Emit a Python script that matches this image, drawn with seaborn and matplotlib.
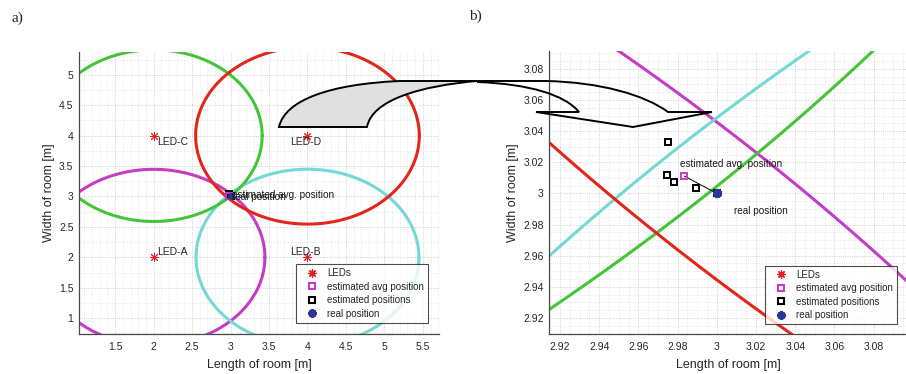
import numpy as np
import pandas as pd
import matplotlib
matplotlib.use("Agg")
import matplotlib.pyplot as plt
import seaborn as sns
from matplotlib.path import Path
from matplotlib.patches import PathPatch
from matplotlib.ticker import MultipleLocator, FuncFormatter

# ---------------- data ----------------
led_names = ["LED-A", "LED-B", "LED-C", "LED-D"]
led_x = [2.0, 4.0, 2.0, 4.0]
led_y = [2.0, 2.0, 4.0, 4.0]
radius = [1.447, 1.449, 1.411, 1.454]
circle_colors = ["#c53cc5", "#74d8d4", "#45c43a", "#e1261c"]

est_x = [2.9752, 2.9744, 2.9780, 2.9893, 3.0000]
est_y = [3.0330, 3.0117, 3.0075, 3.0037, 3.0000]
avg_x = [2.9834]
avg_y = [3.0112]
real_x = [3.0]
real_y = [3.0]

legend_labels = ["LEDs", "estimated avg position", "estimated positions", "real position"]
left_xticks = [1.5, 2, 2.5, 3, 3.5, 4, 4.5, 5, 5.5]
left_yticks = [1, 1.5, 2, 2.5, 3, 3.5, 4, 4.5, 5]
right_ticks = [2.92, 2.94, 2.96, 2.98, 3.0, 3.02, 3.04, 3.06, 3.08]

# ---------------- style ----------------
sns.set_style("white")
plt.rcParams["font.family"] = ["Liberation Sans", "DejaVu Sans"]
TXT = "#262626"
LED_RED = "#e02020"
REAL_BLUE = "#2b3596"
AVG_MAG = "#c53cc5"

W, H = 906, 374
fig = plt.figure(figsize=(W / 100, H / 100), dpi=100)


def px_axes(x0, y0, x1, y1):
    return fig.add_axes([x0 / W, 1 - y1 / H, (x1 - x0) / W, (y1 - y0) / H])


axL = px_axes(79, 52, 439, 334)
axR = px_axes(549, 51, 907, 334)

theta = np.linspace(0, 2 * np.pi, 1441)
rows = []
for n, cx, cy, r in zip(led_names, led_x, led_y, radius):
    for t in theta:
        rows.append((n, cx + r * np.cos(t), cy + r * np.sin(t)))
circ = pd.DataFrame(rows, columns=["led", "x", "y"])
pal = dict(zip(led_names, circle_colors))

fmt = FuncFormatter(lambda v, p: f"{round(v, 4):g}")
ASTER = (8, 2, 0)


def draw(ax, small):
    sns.lineplot(data=circ, x="x", y="y", hue="led", palette=pal, sort=False,
                 estimator=None, legend=False, lw=2.2, ax=ax, zorder=2)
    ax.plot(led_x, led_y, ls="none", marker=ASTER, ms=6.5, mew=0.7,
            color=LED_RED, zorder=4)
    ax.plot([avg_x[0], real_x[0]], [avg_y[0], real_y[0]], color="k", lw=0.7, zorder=3)
    ax.plot(est_x, est_y, ls="none", marker="s", ms=4.3, mfc="none", mec="k",
            mew=1.4, zorder=4)
    ax.plot(avg_x, avg_y, ls="none", marker="s", ms=4.3, mfc="none", mec=AVG_MAG,
            mew=1.4, zorder=5)
    ax.plot(real_x, real_y, ls="none", marker=ASTER, ms=6.5 if small else 5,
            mew=2.6 if small else 1.2, color=REAL_BLUE, zorder=6)
    for ln in ax.lines:
        ln.set_clip_on(True)
        ln.set_clip_box(ax.bbox)

    ax.set_xlabel("Length of room [m]", fontsize=9, color=TXT, labelpad=4.5)
    ax.set_ylabel("Width of room [m]", fontsize=9, color=TXT, labelpad=3)
    ax.xaxis.set_major_formatter(fmt)
    ax.yaxis.set_major_formatter(fmt)
    ax.tick_params(axis="both", direction="in", length=3, width=0.6, colors=TXT,
                   labelsize=7.5)
    ax.tick_params(axis="x", pad=6)
    ax.tick_params(axis="y", pad=4)
    for s in ["top", "right"]:
        ax.spines[s].set_visible(False)
    for s in ["left", "bottom"]:
        ax.spines[s].set_color("#4a4a4a")
        ax.spines[s].set_linewidth(0.9)
    ax.grid(True, which="major", ls=":", lw=0.6, color="#c4c4c4")
    ax.grid(True, which="minor", ls=":", lw=0.5, color="#dcdcdc")
    ax.set_axisbelow(True)

    h = [
        plt.Line2D([], [], ls="none", marker=ASTER, ms=6, mew=0.9, color=LED_RED),
        plt.Line2D([], [], ls="none", marker="s", ms=4.5, mfc="none", mec=AVG_MAG, mew=1.5),
        plt.Line2D([], [], ls="none", marker="s", ms=4.5, mfc="none", mec="k", mew=1.5),
        plt.Line2D([], [], ls="none", marker=ASTER, ms=6, mew=1.8, color=REAL_BLUE),
    ]
    return h


LEG_KW = dict(fontsize=7, frameon=True, fancybox=False, edgecolor="#222222",
              borderpad=0.4, labelspacing=0.36, handletextpad=0.3,
              handlelength=2.5, borderaxespad=0)

hL = draw(axL, False)
axL.set_xlim(1.03, 5.71)
axL.set_ylim(0.74, 5.375)
axL.set_xticks(left_xticks)
axL.set_yticks(left_yticks)
axL.xaxis.set_minor_locator(MultipleLocator(0.1))
axL.yaxis.set_minor_locator(MultipleLocator(0.25))
for n, x, y in zip(led_names, led_x, led_y):
    dx = 0.05 if x < 3 else -0.22
    dy = 0.09 if y < 3 else -0.11
    axL.text(x + dx, y + dy, n, fontsize=7.5, color=TXT, ha="left", va="center", zorder=7)
axL.text(3.017, 3.03, "estimated avg. position", fontsize=7.2, color="#1a1a1a",
         ha="left", va="center", zorder=7)
axL.text(3.017, 2.985, "real position", fontsize=7.2, color="#1a1a1a",
         ha="left", va="center", zorder=7)
legL = axL.legend(hL, legend_labels, loc="lower right", bbox_to_anchor=(0.97, 0.04), **LEG_KW)
legL.get_frame().set_linewidth(0.8)
legL.set_zorder(10)

hR = draw(axR, True)
axR.set_xlim(2.9144, 3.0970)
axR.set_ylim(2.9097, 3.0915)
axR.set_xticks(right_ticks)
axR.set_yticks(right_ticks)
axR.xaxis.set_minor_locator(MultipleLocator(0.005))
axR.yaxis.set_minor_locator(MultipleLocator(0.005))
axR.text(2.9814, 3.019, "estimated avg. position", fontsize=7.2, color="#1a1a1a",
         ha="left", va="center", zorder=7)
axR.text(3.0087, 2.9885, "real position", fontsize=7.2, color="#1a1a1a",
         ha="left", va="center", zorder=7)
legR = axR.legend(hR, legend_labels, loc="lower right", bbox_to_anchor=(0.972, 0.035), **LEG_KW)
legR.get_frame().set_linewidth(0.8)
legR.set_zorder(10)

# panel labels
fig.text(12 / W, 1 - 18 / H, "a)", fontsize=11, family=["Liberation Serif", "DejaVu Serif"],
         ha="left", va="center")
fig.text(469 / W, 1 - 16 / H, "b)", fontsize=11, family=["Liberation Serif", "DejaVu Serif"],
         ha="left", va="center")


# connecting block arrow (figure pixel coordinates)
def P(pts):
    return [(x / W, 1 - y / H) for x, y in pts]


M, L, C = Path.MOVETO, Path.LINETO, Path.CURVE4
gray_pts = [(279, 127), (285, 100), (330, 84), (400, 81), (477, 81),
            (420, 86), (372, 100), (367, 127), (279, 127)]
gray_codes = [M, C, C, C, L, C, C, C, Path.CLOSEPOLY]
fig.add_artist(PathPatch(Path(P(gray_pts), gray_codes), transform=fig.transFigure,
                         facecolor="#e0e0e0", edgecolor="k", lw=1.4, zorder=20,
                         joinstyle="miter"))
white_pts = [(477, 81), (545, 81), (600, 82), (645, 95), (668, 112), (712, 112),
             (633, 127), (536, 112), (579, 112), (565, 95), (530, 84), (477, 82)]
white_codes = [M, L, C, C, C, L, L, L, L, C, C, C]
fig.add_artist(PathPatch(Path(P(white_pts), white_codes), transform=fig.transFigure,
                         facecolor="none", edgecolor="k", lw=1.4, zorder=20,
                         joinstyle="miter"))

fig.savefig("out.png", dpi=100)
